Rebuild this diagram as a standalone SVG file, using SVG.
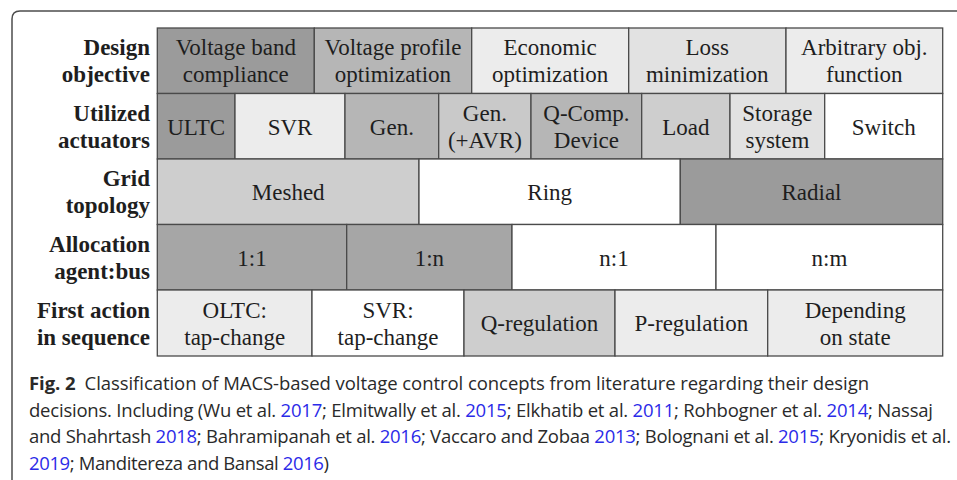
<svg xmlns="http://www.w3.org/2000/svg" width="957" height="480" viewBox="0 0 957 480">
<style>
.c{stroke:#4a4a4a;stroke-width:1.3}
.t{font-family:"Liberation Serif","Times New Roman",serif;font-size:23px;fill:#1e1e1e;text-anchor:middle}
.h{font-family:"Liberation Serif","Times New Roman",serif;font-size:23px;font-weight:bold;fill:#1e1e1e;text-anchor:end}
.cap{font-family:"Open Sans","Noto Sans","Liberation Sans",sans-serif;font-size:18.5px;fill:#2a2a2a}
.lk{fill:#2b2be8}
.d1{fill:#9b9b9b}.d2{fill:#a6a6a6}.m1{fill:#b6b6b6}.m2{fill:#c9c9c9}.l1{fill:#cecece}.l2{fill:#e2e2e2}.l3{fill:#ececec}.w{fill:#ffffff}
</style>
<rect width="957" height="480" fill="#ffffff"/>
<path d="M12,482 V19 Q12,11 20,11 H960" fill="none" stroke="#4d4d4d" stroke-width="1.5"/>

<g id="row-labels">
<text class="h" x="150" y="55">Design</text><text class="h" x="150" y="82">objective</text>
<text class="h" x="150" y="121">Utilized</text><text class="h" x="150" y="148">actuators</text>
<text class="h" x="150" y="186">Grid</text><text class="h" x="150" y="213">topology</text>
<text class="h" x="150" y="252">Allocation</text><text class="h" x="150" y="279">agent:bus</text>
<text class="h" x="150" y="317.5">First action</text><text class="h" x="150" y="344.5">in sequence</text>
</g>

<!-- Row 1 -->
<g id="voltage-band"><rect class="c d1" x="157.3" y="28" width="157" height="65.5"/><text class="t" x="235.8" y="55">Voltage band</text><text class="t" x="235.8" y="82">compliance</text></g>
<g id="voltage-profile"><rect class="c m1" x="314.3" y="28" width="157.4" height="65.5"/><text class="t" x="393" y="55">Voltage profile</text><text class="t" x="393" y="82">optimization</text></g>
<g id="economic"><rect class="c l3" x="471.7" y="28" width="157" height="65.5"/><text class="t" x="550.2" y="55">Economic</text><text class="t" x="550.2" y="82">optimization</text></g>
<g id="loss"><rect class="c l2" x="628.7" y="28" width="157.3" height="65.5"/><text class="t" x="707.3" y="55">Loss</text><text class="t" x="707.3" y="82">minimization</text></g>
<g id="arbitrary"><rect class="c l3" x="786" y="28" width="156.7" height="65.5"/><text class="t" x="864.3" y="55">Arbitrary obj.</text><text class="t" x="864.3" y="82">function</text></g>

<!-- Row 2 -->
<g id="ultc"><rect class="c d1" x="157.3" y="93.5" width="77.7" height="65.5"/><text class="t" x="196.2" y="134.5">ULTC</text></g>
<g id="svr"><rect class="c l3" x="235" y="93.5" width="110" height="65.5"/><text class="t" x="290" y="134.5">SVR</text></g>
<g id="gen"><rect class="c m1" x="345" y="93.5" width="93.7" height="65.5"/><text class="t" x="391.9" y="134.5">Gen.</text></g>
<g id="gen-avr"><rect class="c m2" x="438.7" y="93.5" width="92.3" height="65.5"/><text class="t" x="484.9" y="121">Gen.</text><text class="t" x="484.9" y="148">(+AVR)</text></g>
<g id="qcomp"><rect class="c m1" x="531" y="93.5" width="110.7" height="65.5"/><text class="t" x="586.4" y="121">Q-Comp.</text><text class="t" x="586.4" y="148">Device</text></g>
<g id="load"><rect class="c l1" x="641.7" y="93.5" width="88.3" height="65.5"/><text class="t" x="685.9" y="134.5">Load</text></g>
<g id="storage"><rect class="c l2" x="730" y="93.5" width="94.7" height="65.5"/><text class="t" x="777.4" y="121">Storage</text><text class="t" x="777.4" y="148">system</text></g>
<g id="switch"><rect class="c w" x="824.7" y="93.5" width="118" height="65.5"/><text class="t" x="883.7" y="134.5">Switch</text></g>

<!-- Row 3 -->
<g id="meshed"><rect class="c l1" x="157.3" y="159" width="261.7" height="65.5"/><text class="t" x="288.2" y="200">Meshed</text></g>
<g id="ring"><rect class="c w" x="419" y="159" width="261.3" height="65.5"/><text class="t" x="549.7" y="200">Ring</text></g>
<g id="radial"><rect class="c d1" x="680.3" y="159" width="262.4" height="65.5"/><text class="t" x="811.5" y="200">Radial</text></g>

<!-- Row 4 -->
<g id="a11"><rect class="c d2" x="157.3" y="224.5" width="189.4" height="65.5"/><text class="t" x="252" y="265.5">1:1</text></g>
<g id="a1n"><rect class="c d2" x="346.7" y="224.5" width="165.3" height="65.5"/><text class="t" x="429.4" y="265.5">1:n</text></g>
<g id="an1"><rect class="c w" x="512" y="224.5" width="204" height="65.5"/><text class="t" x="614" y="265.5">n:1</text></g>
<g id="anm"><rect class="c w" x="716" y="224.5" width="226.7" height="65.5"/><text class="t" x="829.4" y="265.5">n:m</text></g>

<!-- Row 5 -->
<g id="oltc-tap"><rect class="c l3" x="157.3" y="290" width="154.7" height="66"/><text class="t" x="234.7" y="317.5">OLTC:</text><text class="t" x="234.7" y="344.5">tap-change</text></g>
<g id="svr-tap"><rect class="c w" x="312" y="290" width="152" height="66"/><text class="t" x="388" y="317.5">SVR:</text><text class="t" x="388" y="344.5">tap-change</text></g>
<g id="q-reg"><rect class="c l1" x="464" y="290" width="151" height="66"/><text class="t" x="539.5" y="331">Q-regulation</text></g>
<g id="p-reg"><rect class="c l3" x="615" y="290" width="152.7" height="66"/><text class="t" x="691.4" y="331">P-regulation</text></g>
<g id="depending"><rect class="c l3" x="767.7" y="290" width="175" height="66"/><text class="t" x="855.2" y="317.5">Depending</text><text class="t" x="855.2" y="344.5">on state</text></g>

<g id="connectors"/>

<g id="caption">
<text class="cap" x="29" y="390" textLength="840" lengthAdjust="spacing"><tspan font-weight="bold">Fig. 2</tspan><tspan dx="9">Classification of MACS-based voltage control concepts from literature regarding their design</tspan></text>
<text class="cap" x="29" y="416.5" textLength="904" lengthAdjust="spacing">decisions. Including (Wu et al. <tspan class="lk">2017</tspan>; Elmitwally et al. <tspan class="lk">2015</tspan>; Elkhatib et al. <tspan class="lk">2011</tspan>; Rohbogner et al. <tspan class="lk">2014</tspan>; Nassaj</text>
<text class="cap" x="29" y="443" textLength="922" lengthAdjust="spacing">and Shahrtash <tspan class="lk">2018</tspan>; Bahramipanah et al. <tspan class="lk">2016</tspan>; Vaccaro and Zobaa <tspan class="lk">2013</tspan>; Bolognani et al. <tspan class="lk">2015</tspan>; Kryonidis et al.</text>
<text class="cap" x="29" y="469.5" textLength="300" lengthAdjust="spacing"><tspan class="lk">2019</tspan>; Manditereza and Bansal <tspan class="lk">2016</tspan>)</text>
</g>
</svg>
